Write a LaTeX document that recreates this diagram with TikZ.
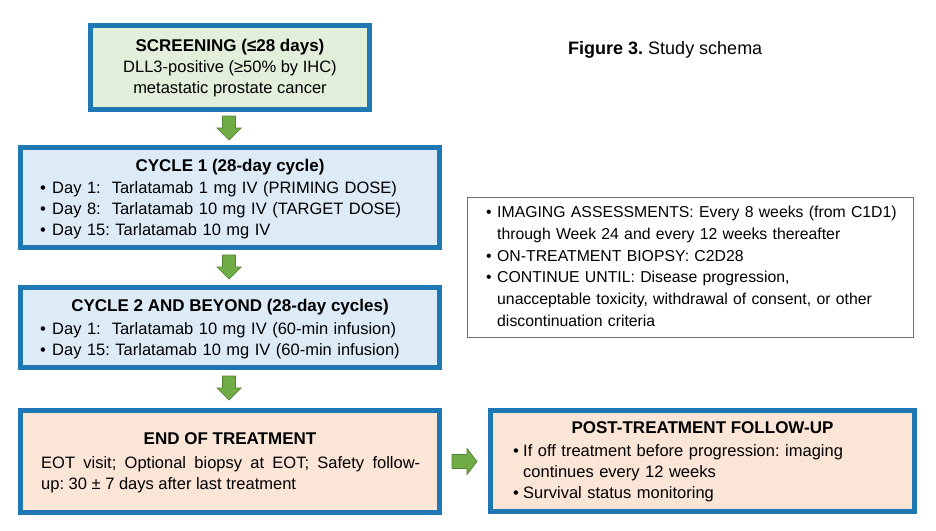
\documentclass[tikz,border=0pt]{standalone}
\usepackage{fontspec}
\setmainfont{Liberation Sans}
\definecolor{bordblue}{RGB}{31,120,180}
\definecolor{fillgreen}{RGB}{226,239,218}
\definecolor{fillblue}{RGB}{221,235,247}
\definecolor{fillpeach}{RGB}{251,229,214}
\definecolor{arrgreen}{RGB}{112,173,71}
\definecolor{arrdark}{RGB}{84,130,53}
\definecolor{graybord}{RGB}{110,110,110}
\hyphenpenalty=10000
\frenchspacing
\newcommand{\bitemw}[2]{\hangindent=#1\hangafter=1\noindent\makebox[#1][l]{\textbullet}#2\par}
\tikzset{
  box/.style={draw=bordblue, line width=5pt, inner sep=0pt},
  notebox/.style={draw=graybord, line width=0.9pt, inner sep=0pt, fill=white},
  txt/.style={inner sep=0pt, font=\fontsize{16.5}{21}\selectfont},
  ttl/.style={inner sep=0pt, font=\fontsize{17}{21}\selectfont\bfseries},
  arrstyle/.style={fill=arrgreen, draw=arrdark, line width=0.7pt, line join=miter},
  downarr/.pic={\path[arrstyle] (-6.5,-12) -- (6.5,-12) -- (6.5,0) -- (12,0) -- (0,12) -- (-12,0) -- (-6.5,0) -- cycle;},
  rightarr/.pic={\path[arrstyle] (-12.5,-7) -- (2.5,-7) -- (2.5,-13) -- (12.5,0) -- (2.5,13) -- (2.5,7) -- (-12.5,7) -- cycle;}
}
\begin{document}
\begin{tikzpicture}[x=1pt,y=-1pt]
\useasboundingbox (0,0) rectangle (936,530);
\fill[white] (0,0) rectangle (936,530);

% boxes
\node[box, fill=fillgreen, minimum width=279pt, minimum height=84pt] (screen) at (230,67.5) {};
\node[box, fill=fillblue, minimum width=419pt, minimum height=100pt] (cyc1) at (230,197.5) {};
\node[box, fill=fillblue, minimum width=419pt, minimum height=80pt] (cyc2) at (230,327.5) {};
\node[box, fill=fillpeach, minimum width=419pt, minimum height=102pt] (eot) at (230,461.5) {};
\node[box, fill=fillpeach, minimum width=424pt, minimum height=101pt] (post) at (702.5,461) {};
\node[notebox, minimum width=446pt, minimum height=140pt] (note) at (690,267) {};

% title
\node[inner sep=0pt, font=\fontsize{18}{22}\selectfont, anchor=base west] (fig) at (568,54) {\textbf{Figure 3.} Study schema};

% screening text
\node[inner sep=0pt, align=center, font=\fontsize{16.5}{21}\selectfont] (screentxt) at (230,68) {{\fontsize{17}{21}\selectfont\bfseries SCREENING (≤28 days)}\\DLL3-positive (≥50\% by IHC)\\metastatic prostate cancer};

% cycle 1
\node[ttl] (cyc1t) at (230,167) {CYCLE 1 (28-day cycle)};
\node[txt, anchor=north west, text width=395pt, align=left] (cyc1l) at (40,181) {%
\bitemw{12pt}{Day 1:\ \ Tarlatamab 1 mg IV (PRIMING DOSE)}%
\bitemw{12pt}{Day 8:\ \ Tarlatamab 10 mg IV (TARGET DOSE)}%
\bitemw{12pt}{Day 15: Tarlatamab 10 mg IV}};

% cycle 2
\node[ttl] (cyc2t) at (230,307) {CYCLE 2 AND BEYOND (28-day cycles)};
\node[txt, anchor=north west, text width=395pt, align=left] (cyc2l) at (40,322) {%
\bitemw{12pt}{Day 1:\ \ Tarlatamab 10 mg IV (60-min infusion)}%
\bitemw{12pt}{Day 15: Tarlatamab 10 mg IV (60-min infusion)}};

% EOT
\node[ttl] (eott) at (230,439) {END OF TREATMENT};
\node[txt, anchor=north west, text width=379pt, align=justify] (eotl) at (41,456) {EOT visit; Optional biopsy at EOT; Safety follow-\linebreak up: 30 ± 7 days after last treatment\par};

% post
\node[ttl] (postt) at (702.5,428) {POST-TREATMENT FOLLOW-UP};
\node[txt, anchor=north west, text width=395pt, align=left] (postl) at (513,444) {%
\bitemw{10pt}{If off treatment before progression: imaging\newline continues every 12 weeks}%
\bitemw{10pt}{Survival status monitoring}};

% note
\node[inner sep=0pt, font=\fontsize{15.8}{21.7}\selectfont, anchor=north west, text width=440pt, align=left] (notel) at (486,206) {%
\bitemw{11pt}{IMAGING ASSESSMENTS: Every 8 weeks (from C1D1)\newline through Week 24 and every 12 weeks thereafter}%
\bitemw{11pt}{ON-TREATMENT BIOPSY: C2D28}%
\bitemw{11pt}{CONTINUE UNTIL: Disease progression,\newline unacceptable toxicity, withdrawal of consent, or other\newline discontinuation criteria}};

% arrows
\pic (a1) at (229,128) {downarr};
\pic (a2) at (229,267) {downarr};
\pic (a3) at (229,388) {downarr};
\pic (a4) at (464.5,461.5) {rightarr};
\end{tikzpicture}
\end{document}
